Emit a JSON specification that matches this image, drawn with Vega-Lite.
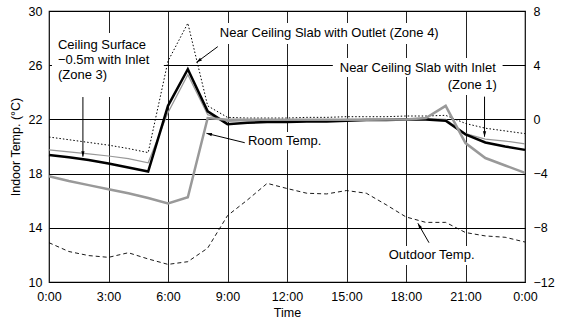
{
  "$schema": "https://vega.github.io/schema/vega-lite/v6.json",
  "width": 476,
  "height": 271,
  "autosize": {"type": "none"},
  "padding": {"left": 49, "top": 11, "right": 37, "bottom": 42},
  "config": {
    "view": {"stroke": "black", "strokeWidth": 1.2},
    "font": "Liberation Sans",
    "axis": {
      "labelFont": "Liberation Sans",
      "titleFont": "Liberation Sans",
      "labelColor": "black",
      "titleColor": "black",
      "titleFontWeight": "normal",
      "labelFontSize": 12.5,
      "titleFontSize": 12.5,
      "domain": false,
      "ticks": false
    }
  },
  "datasets": {
    "temps": [
      {"h": 0, "z4": 20.7, "z1": 19.75, "z3": 19.37, "room": 17.8, "out": -9.1},
      {"h": 1, "z4": 20.5, "z1": 19.6, "z3": 19.2, "room": 17.45, "out": -9.75},
      {"h": 2, "z4": 20.3, "z1": 19.45, "z3": 19.0, "room": 17.15, "out": -10.05},
      {"h": 3, "z4": 20.1, "z1": 19.3, "z3": 18.75, "room": 16.85, "out": -10.18},
      {"h": 4, "z4": 19.85, "z1": 19.1, "z3": 18.45, "room": 16.55, "out": -9.84},
      {"h": 5, "z4": 19.55, "z1": 18.8, "z3": 18.15, "room": 16.2, "out": -10.3},
      {"h": 6, "z4": 26.3, "z1": 22.5, "z3": 23.0, "room": 15.8, "out": -10.7},
      {"h": 7, "z4": 29.1, "z1": 25.3, "z3": 25.7, "room": 16.25, "out": -10.5},
      {"h": 8, "z4": 23.0, "z1": 22.35, "z3": 22.6, "room": 22.1, "out": -9.5},
      {"h": 9, "z4": 22.15, "z1": 21.85, "z3": 21.65, "room": 21.97, "out": -7.1},
      {"h": 10, "z4": 22.1, "z1": 21.9, "z3": 21.75, "room": 21.97, "out": -5.95},
      {"h": 11, "z4": 22.1, "z1": 21.9, "z3": 21.8, "room": 21.97, "out": -4.72},
      {"h": 12, "z4": 22.1, "z1": 21.9, "z3": 21.8, "room": 21.97, "out": -5.1},
      {"h": 13, "z4": 22.15, "z1": 21.95, "z3": 21.85, "room": 21.97, "out": -5.45},
      {"h": 14, "z4": 22.15, "z1": 21.95, "z3": 21.85, "room": 21.97, "out": -5.5},
      {"h": 15, "z4": 22.2, "z1": 22.0, "z3": 21.9, "room": 21.98, "out": -5.25},
      {"h": 16, "z4": 22.2, "z1": 22.0, "z3": 21.95, "room": 21.98, "out": -5.45},
      {"h": 17, "z4": 22.2, "z1": 22.0, "z3": 21.95, "room": 22.0, "out": -6.3},
      {"h": 18, "z4": 22.25, "z1": 22.05, "z3": 22.0, "room": 22.0, "out": -7.2},
      {"h": 19, "z4": 22.25, "z1": 22.05, "z3": 22.0, "room": 22.1, "out": -7.6},
      {"h": 20, "z4": 22.3, "z1": 22.0, "z3": 21.9, "room": 23.0, "out": -7.6},
      {"h": 21, "z4": 21.7, "z1": 20.95, "z3": 20.9, "room": 20.25, "out": -8.35},
      {"h": 22, "z4": 21.35, "z1": 20.55, "z3": 20.3, "room": 19.15, "out": -8.6},
      {"h": 23, "z4": 21.15, "z1": 20.4, "z3": 20.0, "room": 18.6, "out": -8.7},
      {"h": 24, "z4": 20.95, "z1": 20.2, "z3": 19.75, "room": 18.05, "out": -9.05}
    ],
    "boxes": [
      {"h1": 0.15, "h2": 5.79, "v1": 23.65, "v2": 28.38},
      {"h1": 8.41, "h2": 19.95, "v1": 27.56, "v2": 29.11},
      {"h1": 14.31, "h2": 22.87, "v1": 25.13, "v2": 26.53},
      {"h1": 20.0, "h2": 22.87, "v1": 23.8, "v2": 25.13},
      {"h1": 9.82, "h2": 13.3, "v1": 19.74, "v2": 21.07},
      {"h1": 16.93, "h2": 21.71, "v1": 11.25, "v2": 12.66}
    ],
    "labels": [
      {"h": 0.45, "v": 27.49, "text": "Ceiling Surface"},
      {"h": 0.45, "v": 26.38, "text": "−0.5m with Inlet"},
      {"h": 0.45, "v": 25.28, "text": "(Zone 3)"},
      {"h": 8.61, "v": 28.38, "text": "Near Ceiling Slab with Outlet (Zone 4)"},
      {"h": 14.66, "v": 25.79, "text": "Near Ceiling Slab with Inlet"},
      {"h": 20.1, "v": 24.54, "text": "(Zone 1)"},
      {"h": 10.03, "v": 20.41, "text": "Room Temp."},
      {"h": 17.13, "v": 11.99, "text": "Outdoor Temp."}
    ],
    "arrows": [
      {"h1": 1.71, "v1": 23.65, "h2": 1.71, "v2": 19.25, "angle": 180},
      {"h1": 8.51, "v1": 27.37, "h2": 7.44, "v2": 26.21, "angle": 234},
      {"h1": 21.96, "v1": 23.68, "h2": 21.96, "v2": 20.72, "angle": 180},
      {"h1": 9.87, "v1": 20.28, "h2": 7.94, "v2": 20.97, "angle": 284},
      {"h1": 19.16, "v1": 12.9, "h2": 18.6, "v2": 14.33, "angle": 330}
    ]
  },
  "layer": [
    {
      "layer": [
        {
          "data": {"name": "boxes"},
          "mark": {"type": "rect", "fill": "white"},
          "encoding": {
            "x": {
              "field": "h1", "type": "quantitative",
              "scale": {"domain": [0, 24], "nice": false},
              "axis": {
                "values": [0, 3, 6, 9, 12, 15, 18, 21, 24],
                "labelExpr": "datum.value == 24 ? '0:00' : datum.value + ':00'",
                "grid": true, "gridColor": "#222222", "gridOpacity": 1, "gridWidth": 1,
                "labelFlush": false, "labelOverlap": false,
                "labelPadding": 8, "titlePadding": 4, "title": "Time"
              }
            },
            "x2": {"field": "h2"},
            "y": {
              "field": "v1", "type": "quantitative",
              "scale": {"domain": [10, 30], "nice": false, "zero": false},
              "axis": {
                "values": [10, 14, 18, 22, 26, 30],
                "grid": true, "gridColor": "black", "gridOpacity": 1, "gridWidth": 1,
                "labelPadding": 7, "titlePadding": 6, "title": "Indoor Temp. (°C)"
              }
            },
            "y2": {"field": "v2"}
          }
        },
        {
          "data": {"name": "temps"},
          "mark": {"type": "line", "color": "black", "strokeWidth": 1, "strokeDash": [1.5, 2]},
          "encoding": {
            "x": {"field": "h", "type": "quantitative"},
            "y": {"field": "z4", "type": "quantitative"}
          }
        },
        {
          "data": {"name": "temps"},
          "mark": {"type": "line", "color": "#999999", "strokeWidth": 1.2},
          "encoding": {
            "x": {"field": "h", "type": "quantitative"},
            "y": {"field": "z1", "type": "quantitative"}
          }
        },
        {
          "data": {"name": "temps"},
          "mark": {"type": "line", "color": "black", "strokeWidth": 2.5},
          "encoding": {
            "x": {"field": "h", "type": "quantitative"},
            "y": {"field": "z3", "type": "quantitative"}
          }
        },
        {
          "data": {"name": "temps"},
          "mark": {"type": "line", "color": "#999999", "strokeWidth": 2.5},
          "encoding": {
            "x": {"field": "h", "type": "quantitative"},
            "y": {"field": "room", "type": "quantitative"}
          }
        },
        {
          "data": {"name": "arrows"},
          "mark": {"type": "rule", "color": "black", "strokeWidth": 1},
          "encoding": {
            "x": {"field": "h1", "type": "quantitative"},
            "x2": {"field": "h2"},
            "y": {"field": "v1", "type": "quantitative"},
            "y2": {"field": "v2"}
          }
        },
        {
          "data": {"name": "arrows"},
          "mark": {"type": "point", "shape": "M0,0L-0.6,2L0.6,2Z", "filled": true, "color": "black", "opacity": 1, "size": 30},
          "encoding": {
            "x": {"field": "h2", "type": "quantitative"},
            "y": {"field": "v2", "type": "quantitative"},
            "angle": {"field": "angle", "type": "quantitative", "scale": null}
          }
        },
        {
          "data": {"name": "labels"},
          "mark": {"type": "text", "align": "left", "baseline": "middle", "fontSize": 13, "color": "black", "font": "Liberation Sans"},
          "encoding": {
            "x": {"field": "h", "type": "quantitative"},
            "y": {"field": "v", "type": "quantitative"},
            "text": {"field": "text"}
          }
        }
      ]
    },
    {
      "data": {"name": "temps"},
      "mark": {"type": "line", "color": "black", "strokeWidth": 0.9, "strokeDash": [4, 3]},
      "encoding": {
        "x": {"field": "h", "type": "quantitative"},
        "y": {
          "field": "out", "type": "quantitative",
          "scale": {"domain": [-12, 8], "nice": false, "zero": false},
          "axis": {
            "orient": "right",
            "values": [-12, -8, -4, 0, 4, 8],
            "grid": false, "title": null, "labelPadding": 8
          }
        }
      }
    }
  ],
  "resolve": {"scale": {"y": "independent"}}
}
